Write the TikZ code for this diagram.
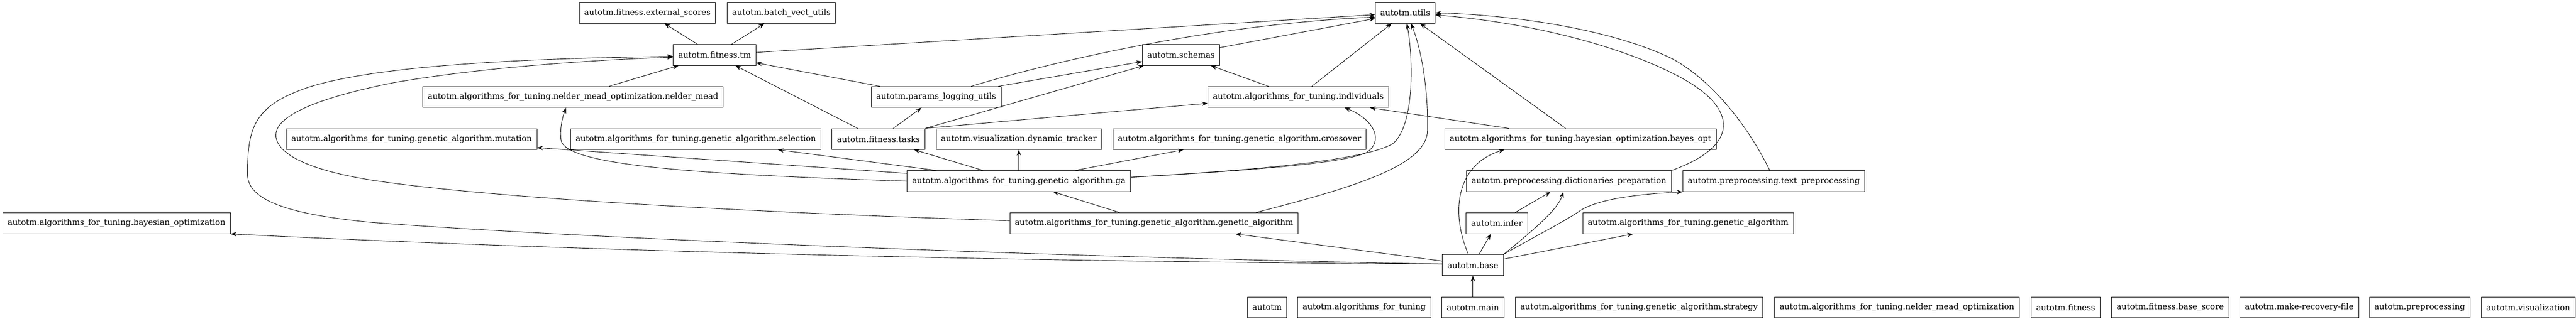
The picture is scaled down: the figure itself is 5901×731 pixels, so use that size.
\documentclass[tikz,border=0pt]{standalone}
\usepackage{fontspec}
\setmainfont{DejaVu Serif}
\usetikzlibrary{arrows.meta}
\tikzset{>={Stealth[length=10pt,width=7.5pt,inset=3.5pt]}}
\tikzset{
  mod/.style = {draw, line width=0.8pt, rectangle, inner xsep=8.6pt,
    minimum height=36pt, font=\fontsize{14}{16}\selectfont},
  dep/.style = {->, line width=0.8pt}
}

\begin{document}
\begin{tikzpicture}[x=0.75pt,y=-0.75pt]
  \useasboundingbox (0,0) rectangle (5901,731);
  % row 1
  \node[mod] (scores) at (1483,29.5) {autotm.fitness.external\_scores};
  \node[mod] (batch) at (1790,29.5) {autotm.batch\_vect\_utils};
  \node[mod] (utils) at (3219,29.5) {autotm.utils};
  % row 2
  \node[mod] (tm) at (1637,126) {autotm.fitness.tm};
  \node[mod] (schemas) at (2705.5,126) {autotm.schemas};
  % row 3
  \node[mod] (nelder) at (1312.5,222.5) {autotm.algorithms\_for\_tuning.nelder\_mead\_optimization.nelder\_mead};
  \node[mod] (params) at (2144.5,222.5) {autotm.params\_logging\_utils};
  \node[mod] (indiv) at (2974,222.5) {autotm.algorithms\_for\_tuning.individuals};
  % row 4
  \node[mod] (mutation) at (943,319) {autotm.algorithms\_for\_tuning.genetic\_algorithm.mutation};
  \node[mod] (selection) at (1594,319) {autotm.algorithms\_for\_tuning.genetic\_algorithm.selection};
  \node[mod] (tasks) at (2012.5,319) {autotm.fitness.tasks};
  \node[mod] (tracker) at (2334,319) {autotm.visualization.dynamic\_tracker};
  \node[mod] (crossover) at (2839.5,319) {autotm.algorithms\_for\_tuning.genetic\_algorithm.crossover};
  \node[mod] (bayesopt) at (3620.5,319) {autotm.algorithms\_for\_tuning.bayesian\_optimization.bayes\_opt};
  % row 5
  \node[mod] (ga) at (2334,415.5) {autotm.algorithms\_for\_tuning.genetic\_algorithm.ga};
  \node[mod] (dict) at (3594,415.5) {autotm.preprocessing.dictionaries\_preparation};
  \node[mod] (text) at (4063.5,415.5) {autotm.preprocessing.text\_preprocessing};
  % row 6
  \node[mod] (bayespkg) at (267,512) {autotm.algorithms\_for\_tuning.bayesian\_optimization};
  \node[mod] (gaga) at (2643.5,512) {autotm.algorithms\_for\_tuning.genetic\_algorithm.genetic\_algorithm};
  \node[mod] (infer) at (3429,512) {autotm.infer};
  \node[mod] (gapkg) at (3867,512) {autotm.algorithms\_for\_tuning.genetic\_algorithm};
  % row 7
  \node[mod] (base) at (3374,608) {autotm.base};
  % row 8
  \node[mod] (autotm) at (2902.5,705) {autotm};
  \node[mod] (aft) at (3125,705) {autotm.algorithms\_for\_tuning};
  \node[mod] (main) at (3374,705) {autotm.main};
  \node[mod] (strategy) at (3754.5,705) {autotm.algorithms\_for\_tuning.genetic\_algorithm.strategy};
  \node[mod] (nmopt) at (4345.5,705) {autotm.algorithms\_for\_tuning.nelder\_mead\_optimization};
  \node[mod] (fitness) at (4732,705) {autotm.fitness};
  \node[mod] (basescore) at (4971.5,705) {autotm.fitness.base\_score};
  \node[mod] (recovery) at (5267,705) {autotm.make-recovery-file};
  \node[mod] (prep) at (5543,705) {autotm.preprocessing};
  \node[mod] (vis) at (5791.5,705) {autotm.visualization};
  % straight imports
  \foreach \a/\b in {tm/scores, tm/batch, tm/utils, schemas/utils, params/tm,
    params/schemas, nelder/tm, indiv/schemas, indiv/utils, tasks/tm, tasks/params,
    bayesopt/indiv, bayesopt/utils, ga/selection, ga/tasks, ga/tracker,
    ga/crossover, ga/mutation, gaga/ga, base/gaga, base/infer, infer/dict,
    base/gapkg, main/base} { \draw[dep] (\a) -- (\b); };
  \draw[dep] (tasks.north east) -- (schemas);
  \draw[dep] (tasks.north east) -- (indiv.184);
  % curved imports
  \draw[dep] (params.17.5) .. controls (2450,130) and (2800,55) .. (utils.188.6);
  \draw[dep] (ga.2) .. controls (2850,392) and (3120,370) .. (3190,330)
    .. controls (3240,290) and (3238,140) .. (utils.279.5);
  \draw[dep] (ga.2) .. controls (2850,392) and (3080,375) .. (3130,350)
    .. controls (3170,325) and (3150,275) .. (indiv.347.3);
  \draw[dep] (ga.west) .. controls (1600,400) and (1290,380) .. (1285,320)
    .. controls (1282,290) and (1290,265) .. (nelder.237);
  \draw[dep] (gaga.6.5) .. controls (3100,430) and (3268,380) .. (3270,300)
    .. controls (3272,200) and (3255,110) .. (utils.298);
  % long loops
  \draw[dep] (gaga.179) .. controls (1800,490) and (1200,460) .. (900,420)
    .. controls (700,395) and (632,350) .. (632,310)
    .. controls (632,260) and (750,220) .. (900,190)
    .. controls (1100,155) and (1350,138) .. (tm.183.6);
  \draw[dep] (base.178) .. controls (2400,590) and (1300,545) .. (850,510)
    .. controls (700,495) and (567,470) .. (567,400)
    .. controls (567,300) and (580,250) .. (680,210)
    .. controls (800,160) and (1100,135) .. (tm.182);
  \draw[dep] (base.178) .. controls (2200,600) and (1200,570) .. (bayespkg.south east);
  % base and preprocessing
  \draw[dep] (base) .. controls (3320,480) and (3340,375) .. (bayesopt.188.5);
  \draw[dep] (base.north east) .. controls (3510,530) and (3570,480) .. (dict.242);
  \draw[dep] (base.north east) .. controls (3520,540) and (3580,510) .. (3617,485)
    .. controls (3660,455) and (3760,445) .. (text.south west);
  \draw[dep] (dict.north east) .. controls (3970,340) and (3975,270) .. (3900,210)
    .. controls (3825,150) and (3600,60) .. (utils.356);
  \draw[dep] (text.111) .. controls (4010,300) and (3930,190) .. (3833,136)
    .. controls (3700,70) and (3480,35) .. (utils.east);
\end{tikzpicture}
\end{document}
